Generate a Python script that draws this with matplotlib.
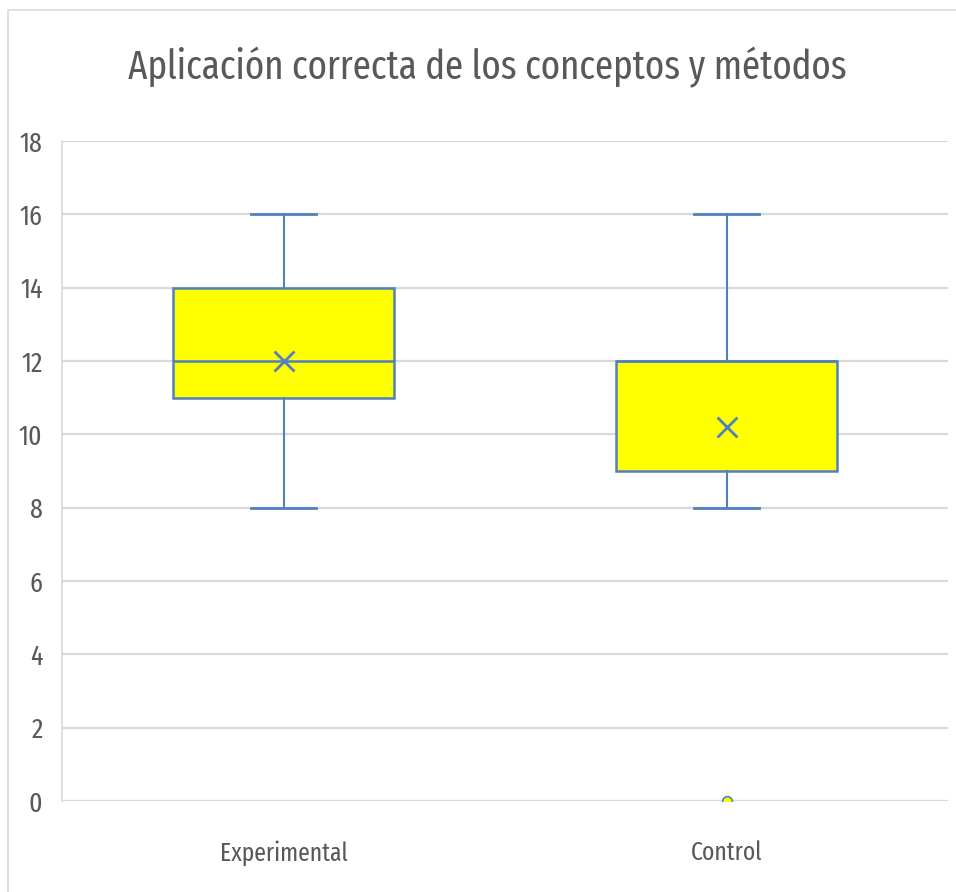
import matplotlib
matplotlib.use('Agg')
import matplotlib.pyplot as plt
from matplotlib.patches import Rectangle

title = "Aplicación correcta de los conceptos y métodos"
categories = ['Experimental', 'Control']
whislo = [8, 8]
q1 = [11, 9]
med = [12, 12]
q3 = [14, 12]
whishi = [16, 16]
means = [12, 10.2]
fliers = [[], [0]]

plt.rcParams['font.family'] = ['Fira Sans Extra Condensed', 'Fira Sans Condensed', 'Roboto Condensed',
                               'PT Sans Narrow', 'Archivo Narrow', 'Carlito', 'DejaVu Sans']

blue = '#4F81BD'
grey_txt = '#595959'

stats = []
for i, c in enumerate(categories):
    stats.append(dict(label=c, whislo=whislo[i], q1=q1[i], med=med[i], q3=q3[i],
                      whishi=whishi[i], mean=means[i], fliers=fliers[i]))

fig = plt.figure(figsize=(9.56, 8.92), dpi=100)
renderer = fig.canvas.get_renderer()


def fit_size(s, width_px, weight='normal'):
    t = fig.text(0, 0, s, fontsize=20, fontweight=weight)
    w = t.get_window_extent(renderer).width
    t.remove()
    return 20 * width_px / w


fig.patches.append(Rectangle((8 / 956, -0.01), 1.0, 1 - 10 / 892 + 0.01, transform=fig.transFigure,
                             fill=False, edgecolor='#d9d9d9', linewidth=1.2))
ax = fig.add_axes([62 / 956, 1 - 801 / 892, (948 - 62) / 956, (801 - 141) / 892])

ax.bxp(stats, positions=[1, 2], widths=0.5, capwidths=0.147, showmeans=True,
       patch_artist=True,
       boxprops=dict(facecolor='#FFFF00', edgecolor=blue, linewidth=1.8),
       medianprops=dict(color=blue, linewidth=1.8),
       whiskerprops=dict(color=blue, linewidth=1.5),
       capprops=dict(color=blue, linewidth=2.0),
       meanprops=dict(marker='x', markeredgecolor=blue, markersize=14, markeredgewidth=2),
       flierprops=dict(marker='o', markerfacecolor='#FFFF00', markeredgecolor=blue,
                       markersize=7, markeredgewidth=1.2))

ytick_fs = fit_size('18', 23)
xtick_fs = fit_size('Experimental', 128)
title_fs = fit_size(title, 721)

ax.set_xlim(0.5, 2.5)
ax.set_ylim(0, 18)
ax.set_yticks(range(0, 19, 2))
ax.yaxis.grid(True, color='#d9d9d9', linewidth=1.6)
ax.set_axisbelow(True)
for s in ['top', 'right', 'bottom']:
    ax.spines[s].set_visible(False)
ax.spines['left'].set_color('#d9d9d9')
ax.spines['left'].set_linewidth(1.2)
ax.tick_params(axis='both', length=0, labelcolor=grey_txt)
ax.tick_params(axis='y', pad=14, labelsize=ytick_fs)
ax.tick_params(axis='x', pad=28, labelsize=xtick_fs)
ax.set_xticks([1, 2])
ax.set_xticklabels(categories)

fig.text(487 / 956, 1 - 67 / 892, title, ha='center', va='center', fontsize=title_fs,
         color=grey_txt)

plt.savefig('out.png', dpi=100)
